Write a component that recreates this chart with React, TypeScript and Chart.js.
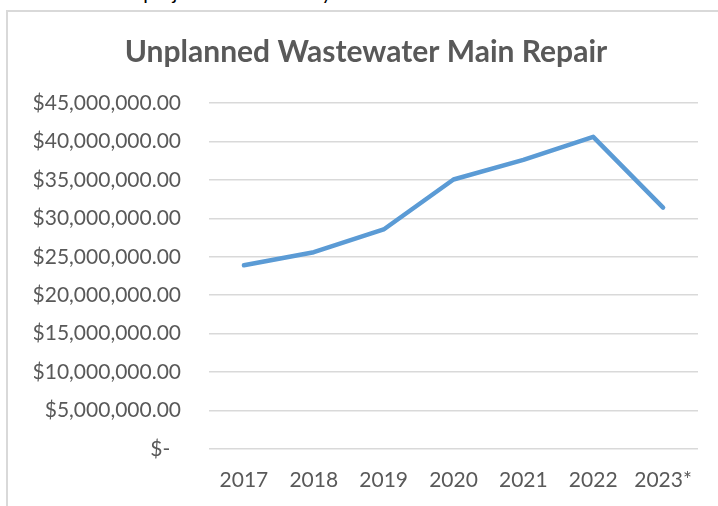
import React, { useEffect, useRef } from "react";
import { Chart, registerables } from "chart.js";

Chart.register(...registerables);

const categories = ["2017", "2018", "2019", "2020", "2021", "2022", "2023*"];
const repairCost = [23900000, 25600000, 28550000, 35050000, 37600000, 40600000, 31400000];
const yMin = 0;
const yMax = 45000000;
const yStep = 5000000;
const chartTitle = "Unplanned Wastewater Main Repair";
const footnote = "*Estimated projection to end of year";

const FONT = "Lato, 'Open Sans', sans-serif";
const TEXT_COLOR = "#595959";

function formatTick(v: number): string {
  if (v === 0) return "$-  ";
  return "$" + v.toLocaleString("en-US", { minimumFractionDigits: 2, maximumFractionDigits: 2 });
}

export default function App() {
  const ref = useRef<HTMLCanvasElement | null>(null);

  useEffect(() => {
    if (!ref.current) return;
    const chart = new Chart(ref.current, {
      type: "line",
      data: {
        labels: categories,
        datasets: [
          {
            data: repairCost,
            borderColor: "#5b9bd5",
            backgroundColor: "#5b9bd5",
            borderWidth: 4.5,
            pointRadius: 0,
            borderCapStyle: "round",
            borderJoinStyle: "round",
            tension: 0,
            fill: false,
          },
        ],
      },
      options: {
        responsive: false,
        animation: false,
        devicePixelRatio: 1,
        layout: { padding: { left: 34, right: 20, top: 0, bottom: 0 } },
        plugins: {
          legend: { display: false },
          tooltip: { enabled: false },
          title: {
            display: true,
            text: chartTitle,
            color: TEXT_COLOR,
            font: { family: FONT, size: 30, weight: "bold", lineHeight: 1.2 },
            padding: { top: 34, bottom: 33 },
          },
        },
        scales: {
          x: {
            offset: true,
            grid: { display: false, drawTicks: false },
            border: { display: false },
            ticks: { color: TEXT_COLOR, font: { family: FONT, size: 21 }, padding: 19, maxRotation: 0 },
            afterFit: (s: any) => {
              s.height = 57;
            },
          },
          y: {
            min: yMin,
            max: yMax,
            ticks: {
              stepSize: yStep,
              color: TEXT_COLOR,
              font: { family: FONT, size: 21 },
              padding: 28,
              callback: (v: any) => formatTick(Number(v)),
            },
            grid: { color: "#d9d9d9", lineWidth: 1.5, drawTicks: false },
            border: { display: false },
            afterFit: (s: any) => {
              s.width = 175;
            },
          },
        },
      },
    } as any);
    return () => chart.destroy();
  }, []);

  return (
    <div
      style={{
        position: "fixed",
        left: 0,
        top: 0,
        width: 718,
        height: 506,
        overflow: "hidden",
        background: "#fff",
      }}
    >
      <div
        style={{
          position: "absolute",
          left: 42,
          top: -18,
          fontFamily: FONT,
          fontSize: 20,
          lineHeight: "20px",
          color: "#000",
          whiteSpace: "nowrap",
        }}
      >
        {footnote}
      </div>
      <div
        style={{
          position: "absolute",
          left: 6,
          top: 10,
          width: 800,
          height: 600,
          border: "2px solid #d9d9d9",
          boxSizing: "border-box",
        }}
      />
      <canvas
        ref={ref}
        width={718}
        height={506}
        style={{ position: "absolute", left: 0, top: 0, width: 718, height: 506, display: "block" }}
      />
    </div>
  );
}
